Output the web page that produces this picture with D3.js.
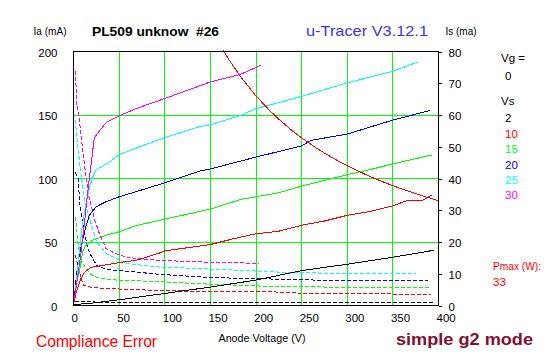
<!DOCTYPE html>
<html><head><meta charset="utf-8">
<script src="https://cdn.jsdelivr.net/npm/d3@7"></script>
<style>
html,body{margin:0;padding:0;background:#fff;}
svg{display:block;}
text{font-family:"Liberation Sans",Arial,sans-serif;}
</style></head>
<body><div id="chart"></div>
<script>
// ---------- data ----------
const vsLabels = ["2","10","15","20","25","30"];
const seriesColors = ["#000000","#ff0000","#00ff00","#0000ff","#00ffff","#ff00ff"];
const xTicks = [0,50,100,150,200,250,300,350,400];
const yTicks = [0,50,100,150,200];
const yRightTicks = [0,10,20,30,40,50,60,70,80];
const xGrid = [50,100,150,200,250,300,350];
const yGrid = [50,100,150];

// anode current Ia (mA) vs anode voltage (V), per screen voltage
const iaVs2  = [[1,0.8],[20,1.8],[50,4.5],[100,9.5],[150,14.5],[200,20],[250,27.5],[300,32.5],[350,38],[395,43.5]];
const iaVs10 = [[1,3],[2,8],[5,15],[8,21],[12,26],[19,30],[32,31.6],[50,33.8],[69,35.6],[95,41.5],[100,43],[150,48],[175,52.5],[200,56.5],[225,58.5],[250,63.2],[275,66.5],[300,71],[325,74],[350,78.5],[367,83],[383,83],[393,87]];
const iaVs15 = [[1,5],[2,13],[4,20],[6.4,26],[8,34],[10,42],[13.7,47.4],[21,51.4],[35.7,55.3],[50,58],[69,63],[95,67.2],[100,68],[150,75.9],[183,83.5],[200,85.6],[225,88.8],[250,94],[278,99],[300,103],[325,107],[350,111.5],[393,118.6]];
const iaVs20 = [[1,5],[2,15],[5,35],[8,45],[11.9,58],[17.3,71],[24.7,77.7],[35.7,81.7],[50,85.6],[68.6,89.6],[95,95.5],[139,106],[150,107.5],[199,116.7],[250,125.7],[260,130],[300,135],[350,146],[391,153.6]];
const iaVs25 = [[1,5],[2,10],[6,40],[10,65],[15,85],[20.3,100],[24.7,106.7],[39.3,113],[50,118.6],[68.6,123.9],[95,131],[139,141],[150,142.3],[183,149.6],[199,154.7],[250,164.7],[300,175.3],[350,184.4],[378,191.9]];
const iaVs30 = [[1,5],[2,10],[8,40],[12,65],[15,85],[17.3,99.6],[22.8,132],[26.6,135.7],[35.7,144],[50,149.4],[68.6,155],[100,163],[150,176],[183,182],[205,189]];

// screen current Is (mA) vs anode voltage, per screen voltage
const isVs2  = [[2,1.3],[20,1.2],[30,0.9],[395,0.9]];
const isVs10 = [[2,15.8],[4.5,13],[7,10],[10.8,6.3],[22,5.6],[40,5.3],[95,4.7],[150,4.4],[245,4.2],[247,3.7],[349,3.7],[351,3.5],[392,3.5]];
const isVs15 = [[2,27.9],[4.6,21],[5.3,18.4],[9,13.7],[18,10],[25.5,8.8],[40,8.1],[58,7.9],[95,7.5],[150,6.7],[217,6],[347,5.6],[392,5.6]];
const isVs20 = [[2,42],[5,40],[7,32],[12.6,21.6],[18,16.3],[25.5,12.6],[36.4,11.3],[58,10.8],[95,9.8],[150,8.8],[281,7.9],[389,7.9]];
const isVs25 = [[2,58.5],[4.6,50],[8.2,41.6],[12,33],[18,26.9],[25.5,20],[36.4,16.3],[58,13.2],[95,12.1],[150,11.5],[227,10.5],[307,10],[375,10]];
const isVs30 = [[2,74],[4,62],[6,59.5],[10,49],[13,42],[17.3,33.7],[22.8,27.4],[28.3,22.7],[35.7,17.9],[46.6,16.3],[57.6,15.3],[68.6,14.8],[95,14.2],[150,13.6],[203,13.3]];

// max dissipation curve (Pmax = 33 W)
const pmaxCurve = [[164,201],[170,194],[175,188.6],[185,178.4],[200,165],[215,153.5],[225,146.7],[240,137.5],[250,132],[265,124.5],[275,120],[290,113.8],[300,110],[325,101.5],[350,94.3],[375,88],[400,82.5]];
const pmaxLabel = "33";

const iaSeries = [iaVs2, iaVs10, iaVs15, iaVs20, iaVs25, iaVs30];
const isSeries = [isVs2, isVs10, isVs15, isVs20, isVs25, isVs30];

// ---------- chart ----------
const W = 547, H = 357;
const svg = d3.select("#chart").append("svg").attr("width", W).attr("height", H);
svg.append("rect").attr("width", W).attr("height", H).attr("fill", "#fff");

const x = d3.scaleLinear().domain([0, 400]).range([73.5, 438.5]);
const y = d3.scaleLinear().domain([0, 200]).range([305.5, 51.5]);
const yr = d3.scaleLinear().domain([0, 80]).range([305.5, 51.5]);
const px = v => Math.floor(v) + 0.5;

// grid
const grid = svg.append("g").attr("shape-rendering", "crispEdges").attr("stroke", "#00ff00").attr("stroke-width", 1);
grid.selectAll("line.v").data(xGrid).join("line").attr("class", "v")
  .attr("x1", d => px(x(d))).attr("x2", d => px(x(d))).attr("y1", y(200)).attr("y2", y(0));
grid.selectAll("line.h").data(yGrid).join("line").attr("class", "h")
  .attr("x1", x(0)).attr("x2", x(400)).attr("y1", d => px(y(d))).attr("y2", d => px(y(d)));

// curves
const lineIa = d3.line().x(d => x(d[0])).y(d => y(d[1]));
const lineIs = d3.line().x(d => x(d[0])).y(d => yr(d[1]));
const curves = svg.append("g").attr("fill", "none").attr("stroke-width", 1).attr("shape-rendering", "crispEdges");
isSeries.forEach((s, i) => {
  curves.append("path").attr("d", lineIs(s)).attr("stroke", seriesColors[i]).attr("stroke-dasharray", "4,2");
});
iaSeries.forEach((s, i) => {
  curves.append("path").attr("d", lineIa(s)).attr("stroke", seriesColors[i]);
});
curves.append("path").attr("d", lineIa(pmaxCurve)).attr("stroke", "#ff0000");

// frame
svg.append("rect").attr("x", x(0)).attr("y", y(200)).attr("width", x(400) - x(0)).attr("height", y(0) - y(200))
  .attr("fill", "none").attr("stroke", "#000").attr("shape-rendering", "crispEdges");

// axes
const fs = "11.5px";
const gl = svg.append("g").attr("transform", `translate(${x(0)},0)`)
  .call(d3.axisLeft(y).tickValues(yTicks).tickSize(0).tickPadding(16));
gl.select(".domain").remove();
gl.selectAll("text").attr("dy", "4.5").attr("font-size", fs).attr("font-family", "Liberation Sans, Arial, sans-serif").attr("fill", "#000");

const gr = svg.append("g").attr("transform", `translate(${x(400)},0)`)
  .call(d3.axisRight(yr).tickValues(yRightTicks).tickSize(3).tickPadding(7));
gr.select(".domain").remove();
gr.selectAll("line").attr("shape-rendering", "crispEdges").attr("stroke", "#000");
gr.selectAll("text").attr("dy", "4.5").attr("font-size", fs).attr("font-family", "Liberation Sans, Arial, sans-serif").attr("fill", "#000");

const gb = svg.append("g").attr("transform", `translate(0,${y(0)})`)
  .call(d3.axisBottom(x).tickValues(xTicks).tickSize(0));
gb.select(".domain").remove();
gb.selectAll("text").attr("y", 0).attr("dy", "16.5").attr("dx", "-2.5").attr("text-anchor", "start")
  .attr("font-size", fs).attr("font-family", "Liberation Sans, Arial, sans-serif").attr("fill", "#000");

// texts
function txt(s, tx, ty, opts = {}) {
  const t = svg.append("text").attr("x", tx).attr("y", ty).text(s)
    .attr("font-size", opts.size || fs).attr("fill", opts.color || "#000");
  if (opts.weight) t.attr("font-weight", opts.weight);
  if (opts.family) t.attr("font-family", opts.family);
  if (opts.len) t.attr("textLength", opts.len).attr("lengthAdjust", "spacingAndGlyphs");
  return t;
}
txt("Ia (mA)", 33.5, 35, {len: 33});
txt("PL509 unknow  #26", 92, 35.5, {size: "13.5px", weight: "bold", len: 127}).attr("xml:space", "preserve").style("white-space", "pre");
txt("u-Tracer V3.12.1", 306, 35.5, {size: "15px", color: "#3a34f0", family: "DejaVu Sans, sans-serif", len: 122});
txt("Is (ma)", 445.5, 35, {len: 31});

txt("Vg =", 501, 62);
txt("0", 505, 79.5);
txt("Vs", 501, 105);
const legendY = [122.3, 137.8, 153.3, 168.5, 183.5, 199];
vsLabels.forEach((l, i) => txt(l, 505, legendY[i], {color: seriesColors[i]}));

txt("Pmax (W):", 493, 269.5, {color: "#ff0000", len: 48});
txt(pmaxLabel, 493, 285.5, {color: "#ff0000"});

txt("Anode Voltage (V)", 218.5, 341.5, {size: "11px", len: 87});
txt("Compliance Error", 36, 346.5, {size: "16px", color: "#ff0000", len: 121});
txt("simple g2 mode", 396, 345, {size: "17px", weight: "bold", color: "#801030", family: "Lato, 'Open Sans', sans-serif", len: 137});
</script></body></html>
